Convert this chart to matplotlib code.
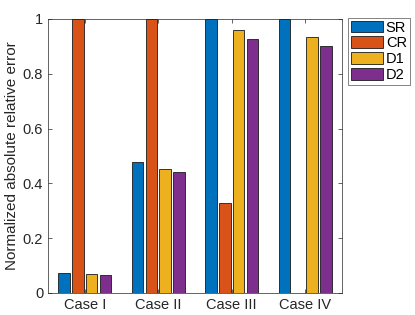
import matplotlib
matplotlib.use("Agg")
import matplotlib.pyplot as plt
import numpy as np

plt.rcParams["font.family"] = ["Liberation Sans", "DejaVu Sans"]

cases = ["Case I", "Case II", "Case III", "Case IV"]
series = ["SR", "CR", "D1", "D2"]
sr = [0.072, 0.477, 1.0, 1.0]
cr = [1.0, 1.0, 0.327, 0.0]
d1 = [0.068, 0.451, 0.959, 0.933]
d2 = [0.066, 0.443, 0.927, 0.901]
colors = ["#0072BD", "#D95319", "#EDB120", "#7E2F8E"]

fig = plt.figure(figsize=(4.15, 3.15), dpi=100)
ax = fig.add_axes([48 / 415, 22 / 315, 294 / 415, 274 / 315])

x = np.arange(1, len(cases) + 1)
offsets = [-0.28, -0.093, 0.093, 0.28]
for vals, name, c, off in zip([sr, cr, d1, d2], series, colors, offsets):
    ax.bar(x + off, vals, width=0.155, color=c, edgecolor="#1a1a1a",
           linewidth=0.6, label=name)

ax.set_xlim(0.5, 4.5)
ax.set_ylim(0, 1)
ax.set_xticks(x)
ax.set_xticklabels(cases)
ax.set_yticks([0, 0.2, 0.4, 0.6, 0.8, 1])
ax.set_yticklabels(["0", "0.2", "0.4", "0.6", "0.8", "1"])
ax.set_ylabel("Normalized absolute relative error", fontsize=11, color="#262626",
              labelpad=3)
ax.tick_params(direction="in", top=True, right=True, labelsize=10.5,
               colors="#262626", length=3, width=0.5)
for s in ax.spines.values():
    s.set_color("#262626")
    s.set_linewidth(0.5)

leg = ax.legend(loc="upper left", bbox_to_anchor=(1.02, 1.005), fontsize=10.5,
                frameon=True, fancybox=False, edgecolor="#262626",
                handlelength=2.2, handleheight=0.85, handletextpad=0.2,
                borderpad=0.2, labelspacing=0.12, borderaxespad=0)
leg.get_frame().set_linewidth(0.5)

fig.savefig("out.png", dpi=100)
